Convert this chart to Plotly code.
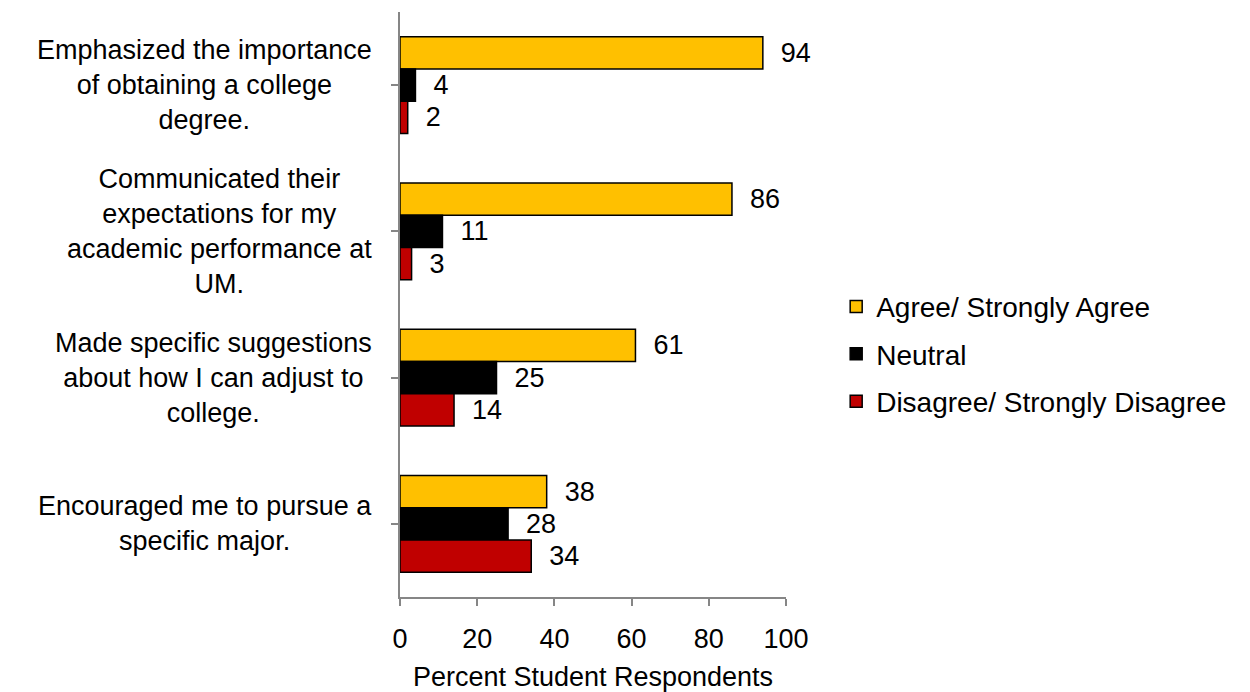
import plotly.graph_objects as go

categories = [
    "Emphasized the importance<br>of obtaining a college<br>degree.",
    "Communicated their<br>expectations for my<br>academic performance at<br>UM.",
    "Made specific suggestions<br>about how I can adjust to<br>college.",
    "Encouraged me to pursue a<br>specific major.",
]
series_names = ["Agree/ Strongly Agree", "Neutral", "Disagree/ Strongly Disagree"]
agree = [94, 86, 61, 38]
neutral = [4, 11, 25, 28]
disagree = [2, 3, 14, 34]
colors = ["#FFC000", "#000000", "#C00000"]
x_ticks = [0, 20, 40, 60, 80, 100]

FONT = "Liberation Sans, Arial, sans-serif"
FS = 27
FS_CAT = 27

fig = go.Figure()
for name, vals, col in zip(series_names, [agree, neutral, disagree], colors):
    fig.add_trace(go.Bar(
        y=list(range(len(categories))), x=vals, name=name, orientation="h",
        marker=dict(color=col, line=dict(color="#000000", width=1.5)),
        text=vals, texttemplate="  %{x}", textposition="outside",
        textfont=dict(family=FONT, size=FS, color="#000000"),
        cliponaxis=False, constraintext="none", legendgroup=name,
    ))

for i, c in enumerate(categories):
    fig.add_annotation(x=0, xref="paper", y=i, yref="y", text=c, showarrow=False,
                       xanchor="right", yanchor="middle", align="center", xshift=-26,
                       font=dict(family=FONT, size=FS_CAT, color="#000000"))

fig.update_layout(
    width=1250, height=692,
    margin=dict(l=400, r=464, t=12, b=95, autoexpand=False),
    paper_bgcolor="white", plot_bgcolor="white",
    barmode="group", bargap=0.34, bargroupgap=0,
    font=dict(family=FONT, size=FS, color="#000000"),
    showlegend=True,
    legend=dict(x=1.13, xanchor="left", y=0.415, yanchor="middle",
                font=dict(family=FONT, size=28, color="#000000"),
                tracegroupgap=8, traceorder="grouped", bgcolor="rgba(0,0,0,0)"),
    xaxis=dict(range=[0, 100], tickvals=x_ticks, showgrid=False, zeroline=False,
               automargin=False,
               showline=True, linecolor="#868686", linewidth=1.5,
               ticks="outside", ticklen=7, tickcolor="#868686", tickwidth=1.5,
               ticklabelstandoff=10,
               tickfont=dict(family=FONT, size=FS, color="#000000"),
               title=dict(text="Percent Student Respondents", standoff=16,
                          font=dict(family=FONT, size=FS, color="#000000"))),
    yaxis=dict(range=[3.5, -0.5], tickvals=list(range(len(categories))),
               showticklabels=False, tickson="boundaries", type="linear",
               automargin=False,
               showgrid=False, zeroline=False,
               showline=True, linecolor="#868686", linewidth=1.5,
               ticks="outside", ticklen=7, tickcolor="#868686", tickwidth=1.5),
)

fig.write_html("out.html")
